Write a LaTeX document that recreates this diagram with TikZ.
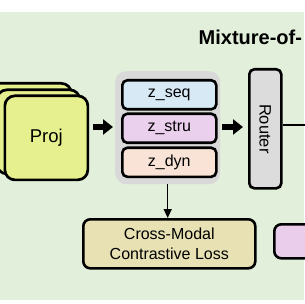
\documentclass[tikz,border=0pt]{standalone}
\usepackage{fontspec}
\setmainfont{Liberation Sans}
\usetikzlibrary{arrows.meta}
\definecolor{bggreen}{HTML}{E2EFDA}
\definecolor{projfill}{HTML}{E6F08E}
\definecolor{contgray}{HTML}{D9D9D9}
\definecolor{seqfill}{HTML}{D6E9F5}
\definecolor{strufill}{HTML}{EBD0EE}
\definecolor{dynfill}{HTML}{F9E3D6}
\definecolor{routerfill}{HTML}{DCDCDC}
\definecolor{lossfill}{HTML}{E7E1B3}
\definecolor{pinkfill}{HTML}{E9CDEB}
\tikzset{
  txt/.style={font=\fontsize{16}{19.5}\selectfont},
  card/.style={draw=black, line width=2.7pt, fill=projfill, rounded corners=10pt,
    minimum width=83pt, minimum height=84pt, inner sep=0pt, anchor=north west},
  zbox/.style={draw=black, line width=2.6pt, rounded corners=5pt, minimum width=94pt,
    minimum height=29pt, inner sep=0pt, anchor=north west, txt},
  plainbox/.style={draw=black, line width=2.6pt, rounded corners=7pt, inner sep=0pt,
    anchor=north west, txt, align=center},
  bigarrow/.style={line width=5.5pt, -{Triangle[length=10pt,width=15pt]}},
  thinarrow/.style={line width=1.4pt, -{Triangle[length=9pt,width=8pt]}},
  thinline/.style={line width=1.4pt},
}
\begin{document}
\begin{tikzpicture}[x=1pt,y=-1pt]
\useasboundingbox (0,0) rectangle (304,304);
% background
\fill[white] (0,0) rectangle (304,304);
\fill[bggreen] (0,12) rectangle (304,300);
% title
\node[anchor=base west, inner sep=0pt, font=\fontsize{20}{22}\selectfont\bfseries] (title) at (198.5,45) {Mixture-of-};
% proj cards
\node[card] (projrear) at (-13,82) {};
\node[card] (projmid) at (-4.5,88.5) {};
\node[card, font=\fontsize{18.5}{20}\selectfont] (proj) at (3.5,94.5) {Proj};
% container
\node[fill=contgray, rounded corners=11pt, minimum width=105pt, minimum height=113pt, inner sep=0pt, anchor=north west] (cont) at (115,71) {};
\node[zbox, fill=seqfill] (zseq) at (121,79) {z\_seq};
\node[zbox, fill=strufill] (zstru) at (121,112.5) {z\_stru};
\node[zbox, fill=dynfill] (zdyn) at (121,146.5) {z\_dyn};
% router
\node[draw=black, line width=2.6pt, fill=routerfill, rounded corners=5pt, minimum width=32pt, minimum height=119pt, inner sep=0pt, anchor=north west] (router) at (248,68) {};
\node[font=\fontsize{16.5}{19}\selectfont, rotate=-90] (routertxt) at (router.center) {Router};
% loss
\node[plainbox, fill=lossfill, minimum width=172pt, minimum height=49pt] (loss) at (82,218) {Cross-Modal\\Contrastive Loss};
% pink box
\node[plainbox, fill=pinkfill, minimum width=70pt, minimum height=34pt] (pinkbox) at (273,223) {};
% connectors
\coordinate (a1s) at (93,127);
\draw[bigarrow] (a1s) -- ([xshift=-2pt]cont.west |- a1s);
\draw[bigarrow] ([xshift=2pt]cont.east |- a1s) -- ([xshift=-5pt]router.west |- a1s);
\coordinate (rend) at (306,125);
\draw[thinline] (router.east |- rend) -- (rend);
\draw[thinarrow] (cont.south) -- (cont.south |- loss.north);
\end{tikzpicture}
\end{document}
